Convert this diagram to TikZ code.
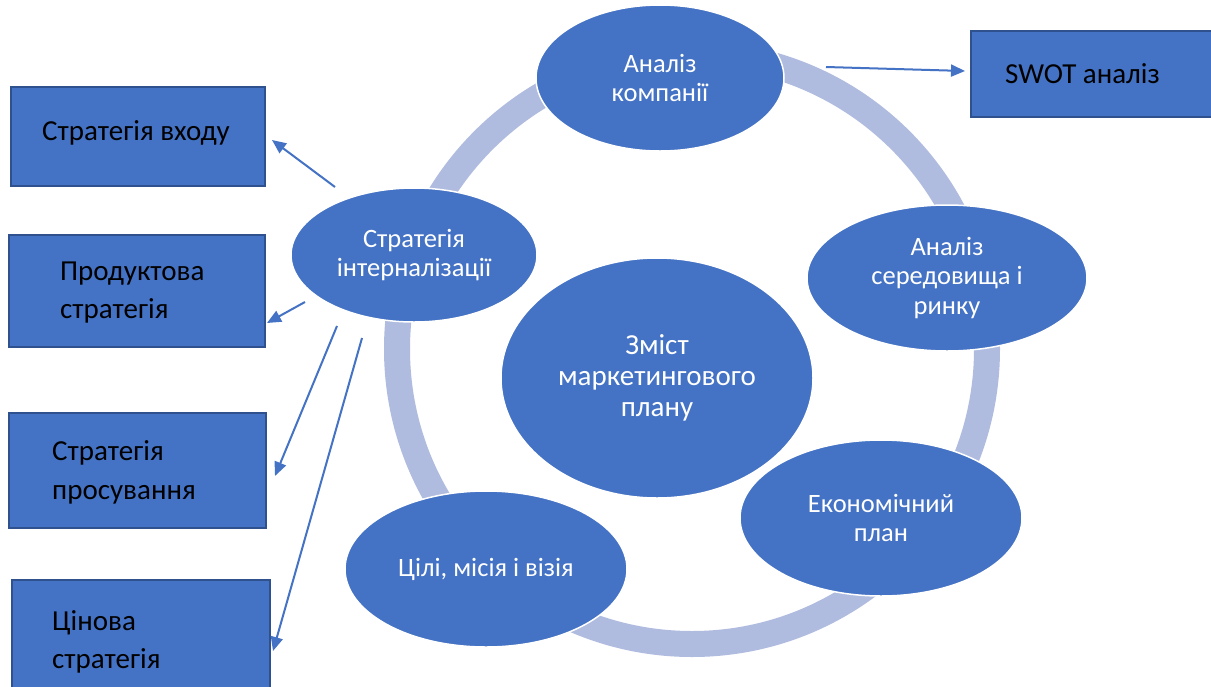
\documentclass[tikz,border=0pt]{standalone}
\usepackage{fontspec}
\setmainfont{Carlito}
\usetikzlibrary{shapes.geometric,arrows.meta}
\definecolor{mblue}{HTML}{4472C4}
\definecolor{mborder}{HTML}{2F528F}
\definecolor{mring}{RGB}{176,188,223}
\begin{document}
\begin{tikzpicture}[x=1pt,y=-1pt,
  ell/.style={ellipse, fill=mblue, draw=white, line width=1.5pt, inner sep=0pt},
  etxt/.style={text=white, align=center, inner sep=0pt, font=\fontsize{26.5}{29.5}\selectfont},
  box/.style={rectangle, fill=mblue, draw=mborder, line width=1.5pt, inner sep=0pt},
  btxt/.style={anchor=base west, inner sep=0pt, font=\fontsize{29}{38}\selectfont, text=black},
  arr/.style={draw=mblue, line width=2pt, -{Triangle[length=14pt,width=12pt]}}]
\useasboundingbox (0,0) rectangle (1211,686);
\fill[white] (0,0) rectangle (1211,686);
\draw[mring, line width=26pt] (692,349) circle[radius=295pt];

\node[ell, minimum width=248pt, minimum height=146pt] (ak) at (660,78) {};
\node[etxt] (akt) at (ak.center) {Аналіз\\компанії};
\node[ell, minimum width=280pt, minimum height=146pt] (as) at (947,278) {};
\node[etxt] (ast) at (as.center) {Аналіз\\середовища і\\ринку};
\node[ell, minimum width=282pt, minimum height=156pt] (ep) at (881,518) {};
\node[etxt] (ept) at (ep.center) {Економічний\\план};
\node[ell, minimum width=282pt, minimum height=156pt] (cm) at (486,569) {};
\node[etxt] (cmt) at (cm.center) {Цілі, місія і візія};
\node[ell, minimum width=246pt, minimum height=134pt] (si) at (414,255) {};
\node[etxt] (sit) at (si.center) {Стратегія\\інтерналізації};
\node[ell, minimum width=312pt, minimum height=240pt] (zm) at (657,378) {};
\node[etxt, font=\fontsize{29}{31}\selectfont] (zmt) at (zm.center) {Зміст\\маркетингового\\плану};

\node[box, minimum width=254pt, minimum height=99pt] (b1) at (138,136.5) {};
\node[box, minimum width=256pt, minimum height=112pt] (b2) at (137,291) {};
\node[box, minimum width=257pt, minimum height=115pt] (b3) at (137.5,470.5) {};
\node[box, minimum width=258pt, minimum height=120pt] (b4) at (141,640) {};
\node[box, minimum width=244pt, minimum height=86pt] (sw) at (1093,74) {};

\node[btxt] (t1) at (42,140) {Стратегія входу};
\node[btxt] (t2a) at (60,280) {Продуктова};
\node[btxt] (t2b) at (60,318) {стратегія};
\node[btxt] (t3a) at (52,460) {Стратегія};
\node[btxt] (t3b) at (52,499) {просування};
\node[btxt] (t4a) at (52,630) {Цінова};
\node[btxt] (t4b) at (52,668) {стратегія};
\node[btxt] (t5) at (1005,83) {SWOT аналіз};

\coordinate (a0s) at (826,67);  \coordinate (a0e) at (965,71);
\coordinate (a1s) at (335,187); \coordinate (a1e) at (272,140);
\coordinate (a2s) at (305,302); \coordinate (a2e) at (267,323);
\coordinate (a3s) at (337,326); \coordinate (a3e) at (275,476);
\coordinate (a4s) at (362,338); \coordinate (a4e) at (273,651);
\draw[arr] (a0s) -- (a0e);
\draw[arr] (a1s) -- (a1e);
\draw[arr] (a2s) -- (a2e);
\draw[arr] (a3s) -- (a3e);
\draw[arr] (a4s) -- (a4e);
\end{tikzpicture}
\end{document}
